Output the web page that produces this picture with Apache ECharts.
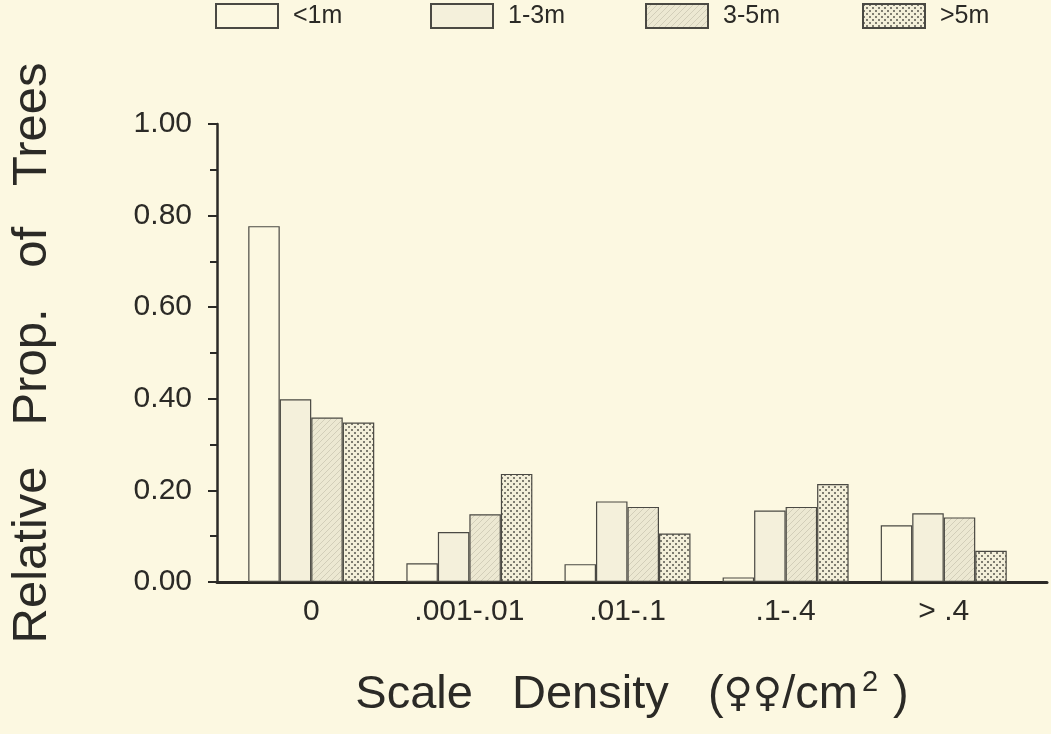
<!DOCTYPE html>
<html>
<head>
<meta charset="utf-8">
<script src="https://cdn.jsdelivr.net/npm/echarts@6/dist/echarts.min.js"></script>
<style>
html,body{margin:0;padding:0;background:#fcf8e1;}
#main{width:1051px;height:734px;}
</style>
</head>
<body>
<div id="main"></div>
<script>
// data
var categories = ['0', '.001-.01', '.01-.1', '.1-.4', '> .4'];
var sizeClasses = ['<1m', '1-3m', '3-5m', '>5m'];
var under1m = [0.777, 0.041, 0.039, 0.010, 0.124];
var m1to3 = [0.399, 0.109, 0.176, 0.156, 0.150];
var m3to5 = [0.359, 0.148, 0.164, 0.164, 0.141];
var over5m = [0.348, 0.236, 0.106, 0.214, 0.068];
var legendLeft = [215, 430, 645, 862];

var bg = '#fcf8e1';
var ink = '#2b2a26';

function tile(w, h, base, draw){
	var c = document.createElement('canvas');
	c.width = w; c.height = h;
	var g = c.getContext('2d');
	g.fillStyle = base;
	g.fillRect(0, 0, w, h);
	if(draw) draw(g);
	return {image: c, repeat: 'repeat'};
}

var fills = [
	bg,
	'#f4f0db',
	tile(6, 6, '#ece8d2', function(g){
		g.strokeStyle = '#d2ceb9';
		g.lineWidth = 1;
		g.beginPath();
		g.moveTo(0, 6); g.lineTo(6, 0);
		g.moveTo(-1, 1); g.lineTo(1, -1);
		g.moveTo(5, 7); g.lineTo(7, 5);
		g.stroke();
	}),
	tile(6, 6, '#f3efd9', function(g){
		g.fillStyle = '#7e7c70';
		g.fillRect(0, 0, 2, 2);
		g.fillRect(3, 3, 2, 2);
	})
];

function pairs(vals){
	var out = [];
	for(var i = 0; i < vals.length; i++) out.push([i, vals[i]]);
	return out;
}

var seriesVals = [under1m, m1to3, m3to5, over5m];
var series = [];
for(var s = 0; s < sizeClasses.length; s++){
	series.push({
		name: sizeClasses[s],
		type: 'bar',
		data: pairs(seriesVals[s]),
		barWidth: 31.5,
		barGap: '0%',
		itemStyle: {
			color: fills[s],
			borderColor: '#4a4943',
			borderWidth: 1.2
		},
		emphasis: {disabled: true}
	});
}

var legends = [];
for(var k = 0; k < sizeClasses.length; k++){
	legends.push({
		data: [sizeClasses[k]],
		left: legendLeft[k],
		top: 3,
		padding: 0,
		itemWidth: 62,
		itemHeight: 24,
		icon: 'rect',
		selectedMode: false,
		textStyle: {
			fontFamily: 'Liberation Sans',
			fontSize: 25,
			color: ink,
			padding: [2, 0, 0, 10]
		}
	});
}

var chart = echarts.init(document.getElementById('main'));
var option = {
	backgroundColor: bg,
	animation: false,
	legend: legends,
	grid: {left: 212, right: 4, top: 124, bottom: 152, containLabel: false},
	xAxis: {
		type: 'value',
		min: -0.596,
		max: 4.653,
		splitLine: {show: false},
		axisTick: {show: false},
		axisLine: {show: true, onZero: false, lineStyle: {color: ink, width: 3}},
		axisLabel: {
			customValues: [0, 1, 2, 3, 4],
			formatter: function(v){ return categories[Math.round(v)]; },
			fontFamily: 'Liberation Sans',
			fontSize: 30,
			color: ink,
			margin: 15
		},
		name: '{t|Scale   Density   (}{f|♀♀}{t|/cm}{s|2}{t| )}',
		nameLocation: 'middle',
		nameGap: 86,
		nameTextStyle: {
			rich: {
				t: {fontFamily: 'Liberation Sans', fontSize: 47, color: ink},
				f: {fontFamily: 'DejaVu Sans', fontSize: 40, color: ink},
				s: {fontFamily: 'Liberation Sans', fontSize: 29, color: ink, padding: [0, 2, 26, 4]}
			}
		}
	},
	yAxis: {
		type: 'value',
		min: 0,
		max: 1,
		interval: 0.2,
		splitLine: {show: false},
		axisLine: {show: true, onZero: false, lineStyle: {color: ink, width: 2.5}},
		axisTick: {show: true, length: 9, lineStyle: {color: ink, width: 2}},
		minorTick: {show: true, splitNumber: 2, length: 7, lineStyle: {color: ink, width: 2}},
		axisLabel: {
			formatter: function(v){ return v.toFixed(2); },
			fontFamily: 'Liberation Sans',
			fontSize: 30,
			color: ink,
			margin: 25
		},
		name: 'Relative   Prop.   of   Trees',
		nameLocation: 'middle',
		nameGap: 160,
		nameTextStyle: {fontFamily: 'Liberation Sans', fontSize: 49, color: ink}
	},
	series: series
};
chart.setOption(option);
</script>
</body>
</html>
